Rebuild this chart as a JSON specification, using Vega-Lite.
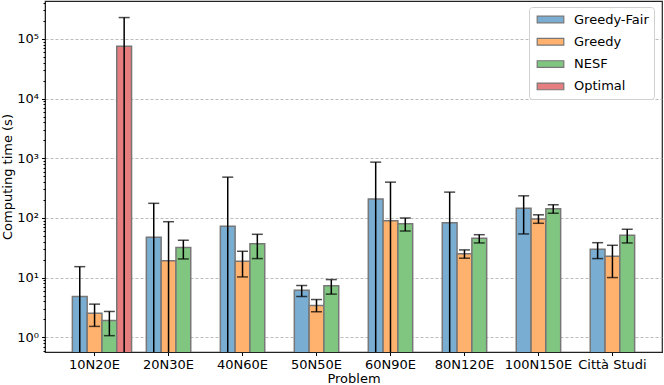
{
  "$schema": "https://vega.github.io/schema/vega-lite/v6.json",
  "autosize": {"type": "none"},
  "padding": {"left": 45, "top": 1, "right": 2, "bottom": 33},
  "width": 617,
  "height": 351,
  "config": {
    "font": "DejaVu Sans",
    "view": {"stroke": "#222222", "strokeWidth": 1.2}
  },
  "data": {
    "values": [
      {"problem": "10N20E", "method": "Greedy-Fair", "mean": 4.84, "lo": 0.1, "hi": 15.3},
      {"problem": "10N20E", "method": "Greedy", "mean": 2.55, "lo": 1.53, "hi": 3.61},
      {"problem": "10N20E", "method": "NESF", "mean": 1.92, "lo": 1.07, "hi": 2.72},
      {"problem": "10N20E", "method": "Optimal", "mean": 75400, "lo": 0.1, "hi": 227000},
      {"problem": "20N30E", "method": "Greedy-Fair", "mean": 47.5, "lo": 0.1, "hi": 176},
      {"problem": "20N30E", "method": "Greedy", "mean": 19.3, "lo": 0.1, "hi": 86.6},
      {"problem": "20N30E", "method": "NESF", "mean": 31.9, "lo": 20.6, "hi": 42.4},
      {"problem": "40N60E", "method": "Greedy-Fair", "mean": 72.6, "lo": 0.1, "hi": 483},
      {"problem": "40N60E", "method": "Greedy", "mean": 18.9, "lo": 10.3, "hi": 27.7},
      {"problem": "40N60E", "method": "NESF", "mean": 37.2, "lo": 20.9, "hi": 53.3},
      {"problem": "50N50E", "method": "Greedy-Fair", "mean": 6.19, "lo": 4.84, "hi": 7.4},
      {"problem": "50N50E", "method": "Greedy", "mean": 3.42, "lo": 2.69, "hi": 4.31},
      {"problem": "50N50E", "method": "NESF", "mean": 7.3, "lo": 5.31, "hi": 9.3},
      {"problem": "60N90E", "method": "Greedy-Fair", "mean": 207, "lo": 0.1, "hi": 861},
      {"problem": "60N90E", "method": "Greedy", "mean": 90, "lo": 0.1, "hi": 398},
      {"problem": "60N90E", "method": "NESF", "mean": 80.2, "lo": 60.5, "hi": 100},
      {"problem": "80N120E", "method": "Greedy-Fair", "mean": 83.4, "lo": 0.1, "hi": 271},
      {"problem": "80N120E", "method": "Greedy", "mean": 25.3, "lo": 21.2, "hi": 29.2},
      {"problem": "80N120E", "method": "NESF", "mean": 45.7, "lo": 38.2, "hi": 52.5},
      {"problem": "100N150E", "method": "Greedy-Fair", "mean": 145, "lo": 54, "hi": 235},
      {"problem": "100N150E", "method": "Greedy", "mean": 96, "lo": 81.5, "hi": 113},
      {"problem": "100N150E", "method": "NESF", "mean": 143, "lo": 120, "hi": 167},
      {"problem": "Città Studi", "method": "Greedy-Fair", "mean": 29.9, "lo": 20.9, "hi": 38.6},
      {"problem": "Città Studi", "method": "Greedy", "mean": 22.9, "lo": 10.05, "hi": 34.9},
      {"problem": "Città Studi", "method": "NESF", "mean": 51.3, "lo": 38.2, "hi": 64.7}
    ]
  },
  "encoding": {
    "x": {
      "field": "problem",
      "type": "nominal",
      "sort": null,
      "scale": {"paddingInner": 0, "paddingOuter": 0.17},
      "axis": {
        "title": "Problem",
        "labelAngle": 0,
        "labelFontSize": 13,
        "labelColor": "#000000",
        "titleFontSize": 13,
        "titleFontWeight": "normal",
        "titleColor": "#000000",
        "tickSize": 3.5,
        "tickColor": "#000000",
        "domainColor": "#222222",
        "labelPadding": 3,
        "titlePadding": 1,
        "grid": false
      }
    },
    "xOffset": {
      "field": "method",
      "type": "nominal",
      "scale": {"domain": ["_", "Greedy-Fair", "Greedy", "NESF", "Optimal"], "paddingInner": 0, "paddingOuter": 0}
    }
  },
  "resolve": {"axis": {"y": "independent"}},
  "layer": [
    {
      "mark": {"type": "bar", "stroke": "#777777", "strokeWidth": 1.5, "clip": true},
      "encoding": {
        "y": {
          "field": "mean",
          "type": "quantitative",
          "scale": {"type": "log", "domain": [0.57, 430000], "nice": false},
          "axis": {
            "orient": "left",
            "title": "Computing time (s)",
            "values": [1, 10, 100, 1000, 10000, 100000],
            "labelExpr": "datum.value == 1 ? '10⁰' : datum.value == 10 ? '10¹' : datum.value == 100 ? '10²' : datum.value == 1000 ? '10³' : datum.value == 10000 ? '10⁴' : '10⁵'",
            "labelFontSize": 13,
            "labelColor": "#000000",
            "titleFontSize": 13,
            "titleFontWeight": "normal",
            "titleColor": "#000000",
            "tickSize": 3.5,
            "tickColor": "#000000",
            "domainColor": "#222222",
            "grid": true,
            "gridDash": [3, 2],
            "gridColor": "#aaaaaa",
            "gridWidth": 0.8,
            "labelPadding": 3,
            "titlePadding": 2
          }
        },
        "y2": {"datum": 0.1},
        "color": {
          "field": "method",
          "type": "nominal",
          "scale": {
            "domain": ["Greedy-Fair", "Greedy", "NESF", "Optimal"],
            "range": ["#79add2", "#ffb26e", "#80c680", "#e67d7e"]
          },
          "legend": {
            "title": null,
            "orient": "none",
            "legendX": 484,
            "legendY": 6,
            "fillColor": "#ffffff",
            "strokeColor": "#d0d0d0",
            "cornerRadius": 3,
            "padding": 5,
            "symbolType": "M-2,-0.5H2V0.5H-2Z",
            "symbolSize": 177,
            "symbolOffset": 9,
            "symbolStrokeColor": "#777777",
            "symbolStrokeWidth": 1.2,
            "symbolOpacity": 1,
            "labelFontSize": 13,
            "labelColor": "#000000",
            "labelOffset": 16,
            "rowPadding": 7.3
          }
        }
      }
    },
    {
      "mark": {"type": "rule", "color": "#000000", "strokeWidth": 1.5, "clip": true},
      "encoding": {
        "y": {
          "field": "lo",
          "type": "quantitative",
          "axis": {
            "orient": "left",
            "title": null,
            "labels": false,
            "domain": false,
            "grid": false,
            "tickSize": 2,
            "tickColor": "#000000",
            "values": [0.6, 0.7, 0.8, 0.9, 2, 3, 4, 5, 6, 7, 8, 9, 20, 30, 40, 50, 60, 70, 80, 90, 200, 300, 400, 500, 600, 700, 800, 900, 2000, 3000, 4000, 5000, 6000, 7000, 8000, 9000, 20000, 30000, 40000, 50000, 60000, 70000, 80000, 90000, 200000, 300000, 400000]
          }
        },
        "y2": {"field": "hi"}
      }
    },
    {
      "mark": {"type": "tick", "orient": "horizontal", "color": "#000000", "size": 11, "thickness": 1.5, "clip": true},
      "encoding": {"y": {"field": "hi", "type": "quantitative", "axis": null}}
    },
    {
      "mark": {"type": "tick", "orient": "horizontal", "color": "#000000", "size": 11, "thickness": 1.5, "clip": true},
      "encoding": {"y": {"field": "lo", "type": "quantitative", "axis": null}}
    }
  ]
}
